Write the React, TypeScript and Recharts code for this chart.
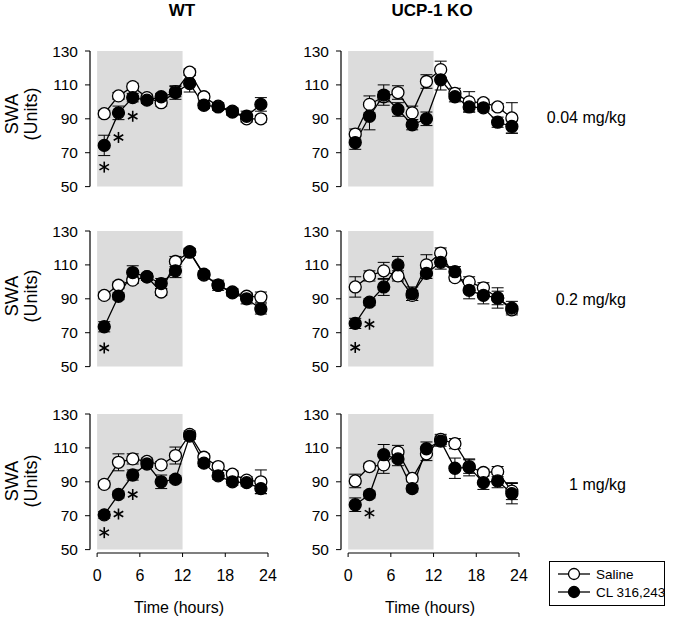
import React from 'react';
import { ComposedChart, Line, XAxis, YAxis, ReferenceArea, ReferenceLine, ErrorBar } from 'recharts';

const FONT = '"Liberation Sans", Arial, sans-serif';

const hours = [1, 3, 5, 7, 9, 11, 13, 15, 17, 19, 21, 23];
const xTicks = [0, 6, 12, 18, 24];
const yTicks = [50, 70, 90, 110, 130];
const doses = ['0.04 mg/kg', '0.2 mg/kg', '1 mg/kg'];
const groups = ['WT', 'UCP-1 KO'];

// WT, 0.04 mg/kg
const wt004Saline = [93, 103.5, 109, 102.5, 99.5, 106, 117.5, 103, 97.5, 94.5, 90, 90];
const wt004SalineErr = [2, 2, 2, 2, 2, 3, 2, 2, 2, 2, 2, 2];
const wt004Cl = [74.3, 93.5, 102.5, 101, 103, 105.5, 110.8, 98, 97, 94, 91.5, 98.5];
const wt004ClErr = [6, 4, 2.5, 2, 2, 4, 5, 2, 2, 2, 3, 4];
const wt004Stars = [61.5, 79, 91.5, null, null, null, null, null, null, null, null, null];

// UCP-1 KO, 0.04 mg/kg
const ko004Saline = [81, 98.5, 103, 105.5, 93.5, 112, 119, 105, 100, 99.5, 97, 90.5];
const ko004SalineErr = [3, 5, 3, 4, 4, 4, 5, 3, 6, 2, 2, 9];
const ko004Cl = [76, 91.5, 104, 95.5, 86.5, 90, 113, 103, 97, 96.5, 88, 85.5];
const ko004ClErr = [4, 8, 6, 4, 3, 4, 6, 3, 3, 2, 3, 4];
const ko004Stars = [null, null, null, null, null, null, null, null, null, null, null, null];

// WT, 0.2 mg/kg
const wt02Saline = [92, 98, 101, 103, 94, 112, 117.5, 104, 98, 94, 91.5, 91];
const wt02SalineErr = [2, 2, 2, 2, 2, 3, 2, 2, 2, 2, 2, 3];
const wt02Cl = [73.5, 91.5, 105.5, 103, 99, 106.5, 117.8, 104.5, 98, 93.5, 90, 84];
const wt02ClErr = [3, 2, 4, 2, 3, 4, 2, 2, 3, 2, 3, 3];
const wt02Stars = [61, null, null, null, null, null, null, null, null, null, null, null];

// UCP-1 KO, 0.2 mg/kg
const ko02Saline = [97, 103.5, 106.5, 103.5, 92, 110, 117, 102.5, 100, 96.5, 90.5, 83.5];
const ko02SalineErr = [6, 3, 5, 3, 3, 6, 3, 2, 3, 3, 4, 2];
const ko02Cl = [75.5, 88, 97, 110, 93, 105, 111.5, 106, 95, 92, 90.5, 84.5];
const ko02ClErr = [3, 2, 5, 5, 4, 3, 4, 3, 5, 5, 6, 4];
const ko02Stars = [61.3, 75, null, null, null, null, null, null, null, null, null, null];

// WT, 1 mg/kg
const wt1Saline = [88.5, 101.5, 103.5, 102, 100, 105.5, 118, 104.5, 99, 94.5, 91, 90];
const wt1SalineErr = [2, 5, 3, 2, 2, 5, 2, 2, 2, 2, 2, 7];
const wt1Cl = [70.5, 82.5, 94, 100.5, 90, 91.5, 117, 101, 93.5, 90, 89.5, 86];
const wt1ClErr = [2, 2, 3, 2, 4, 2, 2, 2, 2, 2, 2, 3];
const wt1Stars = [60, 71, 82.5, null, null, null, null, null, null, null, null, null];

// UCP-1 KO, 1 mg/kg
const ko1Saline = [90.5, 99, 100, 107.5, 92, 106.5, 115, 112.5, 99, 95.5, 96, 84.5];
const ko1SalineErr = [4, 2, 5, 4, 2, 4, 3, 3, 4, 2, 3, 5];
const ko1Cl = [76.5, 82.5, 106, 103.5, 86, 109.5, 114, 98, 98.5, 89.5, 90.5, 83];
const ko1ClErr = [4, 2, 6, 4, 2, 4, 3, 6, 5, 4, 4, 6];
const ko1Stars = [null, 71.5, null, null, null, null, null, null, null, null, null, null];

const buildRows = (saline, salineErr, cl, clErr, stars) =>
  hours.map((t, i) => ({
    t,
    saline: saline[i],
    se: salineErr[i],
    cl: cl[i],
    ce: clErr[i],
    star: stars[i],
  }));

const StarDot = (props) => {
  const { cx, cy, value, index } = props;
  if (value == null || cy == null || isNaN(cy)) return <g key={'s' + index} />;
  const r = 5.5;
  const arms = [90, 30, -30].map((a) => {
    const rad = (a * Math.PI) / 180;
    return [Math.cos(rad) * r, Math.sin(rad) * r];
  });
  return (
    <g key={'s' + index}>
      {arms.map(([dx, dy], k) => (
        <line key={k} x1={cx - dx} y1={cy - dy} x2={cx + dx} y2={cy + dy} stroke="#000" strokeWidth={1.6} />
      ))}
    </g>
  );
};

const Panel = ({ left, top, rows, showX }) => (
  <div style={{ position: 'absolute', left, top }}>
    <ComposedChart
      width={240}
      height={showX ? 212 : 152}
      data={rows}
      margin={{ top: 8, right: 12, left: 0, bottom: showX ? 0 : 5 }}
    >
      <XAxis
        type="number"
        dataKey="t"
        domain={[-1, 24]}
        ticks={xTicks}
        allowDataOverflow
        hide={!showX}
        axisLine={false}
        tickLine={{ stroke: '#000' }}
        tickSize={4}
        tickMargin={13}
        height={65}
        tick={{ fontSize: 16, fill: '#000', fontFamily: FONT }}
        label={{ value: 'Time (hours)', position: 'insideBottom', offset: 5, fontSize: 16, fill: '#000', fontFamily: FONT }}
      />
      <YAxis
        type="number"
        domain={[48, 130]}
        ticks={yTicks}
        interval={0}
        allowDataOverflow
        axisLine={false}
        tickLine={{ stroke: '#000' }}
        tickSize={5}
        tickMargin={7}
        width={50}
        tick={{ fontSize: 15.5, fill: '#000', fontFamily: FONT }}
      />
      <ReferenceArea x1={0} x2={12} y1={50} y2={130} fill="#dcdcdc" fillOpacity={1} stroke="none" />
      <ReferenceLine segment={[{ x: -1, y: 50 }, { x: -1, y: 130 }]} stroke="#000" strokeWidth={1.2} />
      {showX && <ReferenceLine segment={[{ x: 0, y: 48 }, { x: 24, y: 48 }]} stroke="#000" strokeWidth={1.2} />}
      <Line
        dataKey="saline"
        type="linear"
        stroke="#000"
        strokeWidth={1.3}
        dot={{ r: 6, fill: '#fff', stroke: '#000', strokeWidth: 1.3 }}
        activeDot={false}
        isAnimationActive={false}
      >
        <ErrorBar dataKey="se" width={6} stroke="#000" strokeWidth={1} direction="y" />
      </Line>
      <Line
        dataKey="cl"
        type="linear"
        stroke="#000"
        strokeWidth={1.3}
        dot={{ r: 6, fill: '#000', stroke: '#000', strokeWidth: 1.3 }}
        activeDot={false}
        isAnimationActive={false}
      >
        <ErrorBar dataKey="ce" width={6} stroke="#000" strokeWidth={1} direction="y" />
      </Line>
      <Line
        dataKey="star"
        stroke="none"
        dot={StarDot}
        activeDot={false}
        legendType="none"
        isAnimationActive={false}
      />
    </ComposedChart>
  </div>
);

const panels = [
  [buildRows(wt004Saline, wt004SalineErr, wt004Cl, wt004ClErr, wt004Stars), buildRows(ko004Saline, ko004SalineErr, ko004Cl, ko004ClErr, ko004Stars)],
  [buildRows(wt02Saline, wt02SalineErr, wt02Cl, wt02ClErr, wt02Stars), buildRows(ko02Saline, ko02SalineErr, ko02Cl, ko02ClErr, ko02Stars)],
  [buildRows(wt1Saline, wt1SalineErr, wt1Cl, wt1ClErr, wt1Stars), buildRows(ko1Saline, ko1SalineErr, ko1Cl, ko1ClErr, ko1Stars)],
];

const rowTops = [43, 223, 406];
const rowMid = [114, 296, 481];
const colLefts = [40, 291];

export default function App() {
  return (
    <div style={{ position: 'absolute', left: 0, top: 0, width: 675, height: 618, background: '#fff', fontFamily: FONT, color: '#000' }}>
      {groups.map((g, c) => (
        <div
          key={g}
          style={{ position: 'absolute', left: c === 0 ? 182 : 432, top: 1, transform: 'translateX(-50%)', fontWeight: 'bold', fontSize: 17, whiteSpace: 'nowrap' }}
        >
          {g}
        </div>
      ))}
      {panels.map((row, r) =>
        row.map((rows, c) => (
          <Panel key={r + '-' + c} left={colLefts[c]} top={rowTops[r]} rows={rows} showX={r === 2} />
        ))
      )}
      {rowMid.map((y, r) => (
        <React.Fragment key={r}>
          <div
            style={{ position: 'absolute', left: 22, top: y, transform: 'translate(-50%, -50%) rotate(-90deg)', fontSize: 18, lineHeight: '19px', textAlign: 'center', whiteSpace: 'nowrap' }}
          >
            SWA
            <br />
            (Units)
          </div>
          <div style={{ position: 'absolute', right: 675 - 626, top: y + 4, transform: 'translateY(-50%)', fontSize: 16, whiteSpace: 'nowrap' }}>
            {doses[r]}
          </div>
        </React.Fragment>
      ))}
      <svg style={{ position: 'absolute', left: 549, top: 561 }} width={118} height={46}>
        <rect x={0.5} y={0.5} width={115} height={44} fill="#fff" stroke="#000" strokeWidth={1} />
        <line x1={9} y1={13} x2={41} y2={13} stroke="#000" strokeWidth={1.3} />
        <circle cx={25} cy={13} r={5.5} fill="#fff" stroke="#000" strokeWidth={1.3} />
        <text x={47} y={13} dominantBaseline="central" fontSize={13.5} fontFamily={FONT}>Saline</text>
        <line x1={9} y1={31} x2={41} y2={31} stroke="#000" strokeWidth={1.3} />
        <circle cx={25} cy={31} r={5.5} fill="#000" stroke="#000" strokeWidth={1.3} />
        <text x={47} y={31} dominantBaseline="central" fontSize={13.5} fontFamily={FONT}>CL 316,243</text>
      </svg>
    </div>
  );
}
